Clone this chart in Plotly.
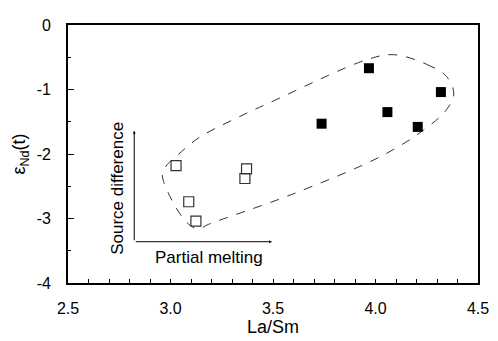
import plotly.graph_objects as go

# open squares
open_x = [3.027, 3.089, 3.124, 3.371, 3.363]
open_y = [-2.18, -2.74, -3.04, -2.23, -2.38]
# filled squares
fill_x = [3.968, 4.319, 4.058, 3.737, 4.206]
fill_y = [-0.67, -1.04, -1.35, -1.53, -1.58]

# dashed envelope (closed outline)
env_x = [4.089, 4.25, 4.347, 4.382, 4.347, 4.234, 4.024, 3.589, 3.186, 3.137,
         3.089, 3.016, 2.960, 2.984, 3.016, 3.137, 3.298, 3.476, 3.96, 4.089]
env_y = [-0.46, -0.61, -0.80, -1.07, -1.31, -1.63, -2.04, -2.63, -3.09, -3.16,
         -3.09, -2.77, -2.31, -2.165, -2.07, -1.75, -1.48, -1.216, -0.535, -0.46]

x_range = [2.5, 4.5]
y_range = [-4, 0]
x_ticks = [2.5, 3.0, 3.5, 4.0, 4.5]
x_labels = ["2.5", "3.0", "3.5", "4.0", "4.5"]
y_ticks = [0, -1, -2, -3, -4]
y_labels = ["0", "-1", "-2", "-3", "-4"]
y_minor = [-0.5, -1.5, -2.5, -3.5]

# arrows: origin and ends
arrow_origin = (2.823, -3.36)
arrow_up_end = (2.823, -1.64)
arrow_right_end = (3.495, -3.36)

font = "Arial"

fig = go.Figure()
fig.add_trace(go.Scatter(x=env_x, y=env_y, mode="lines",
                         line=dict(color="#333333", width=1, dash="dash", shape="spline", smoothing=1.0),
                         hoverinfo="skip", showlegend=False))
fig.add_trace(go.Scatter(x=open_x, y=open_y, mode="markers",
                         marker=dict(symbol="square-open", size=10, color="#333333", line=dict(width=1.2)),
                         showlegend=False))
fig.add_trace(go.Scatter(x=fill_x, y=fill_y, mode="markers",
                         marker=dict(symbol="square", size=10, color="black"),
                         showlegend=False))

for end in (arrow_up_end, arrow_right_end):
    fig.add_annotation(x=end[0], y=end[1], ax=arrow_origin[0], ay=arrow_origin[1],
                       xref="x", yref="y", axref="x", ayref="y", text="",
                       showarrow=True, arrowhead=2, arrowsize=0.6, arrowwidth=1, arrowcolor="black")

fig.add_annotation(x=3.187, y=-3.60, xref="x", yref="y",
                   text="Partial melting", showarrow=False,
                   font=dict(family=font, size=17, color="black"))
fig.add_annotation(x=2.742, y=-2.53, xref="x", yref="y",
                   text="Source difference", showarrow=False, textangle=-90,
                   font=dict(family=font, size=17, color="black"))

fig.update_layout(
    width=490, height=333,
    margin=dict(l=60, r=16, t=9, b=50),
    plot_bgcolor="white", paper_bgcolor="white",
    font=dict(family=font, size=16, color="black"),
    xaxis=dict(range=x_range, tickmode="array", tickvals=x_ticks, ticktext=x_labels,
               ticks="inside", ticklen=4.5, tickcolor="black", tickwidth=1.2,
               minor=dict(dtick=0.1, ticks="inside", ticklen=4.5, tickcolor="black", tickwidth=1.2),
               ticklabelstandoff=10,
               showline=True, linecolor="black", linewidth=1.8, mirror=True,
               showgrid=False, zeroline=False,
               title=dict(text="La/Sm", font=dict(size=18), standoff=2)),
    yaxis=dict(range=y_range, tickmode="array", tickvals=y_ticks, ticktext=y_labels,
               ticks="inside", ticklen=6, tickcolor="black", tickwidth=1.2,
               minor=dict(tickmode="array", tickvals=y_minor, ticks="inside", ticklen=3.5,
                          tickcolor="black", tickwidth=1.2),
               ticklabelstandoff=12,
               showline=True, linecolor="black", linewidth=1.8, mirror=True,
               showgrid=False, zeroline=False,
               title=dict(text="ε<sub>Nd</sub>(t)", font=dict(size=18), standoff=6)),
)

fig.write_html("out.html")
